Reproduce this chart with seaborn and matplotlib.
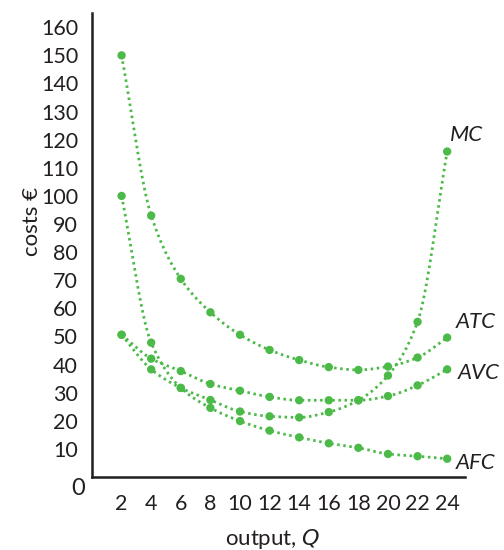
import matplotlib
matplotlib.use("Agg")
from matplotlib import pyplot as plt
import seaborn as sns
import numpy as np

# values
output_q = [2, 4, 6, 8, 10, 12, 14, 16, 18, 20, 22, 24]
atc = [150, 93, 70.5, 58.6, 50.6, 45.2, 41.6, 39.1, 38.1, 39.3, 42.5, 49.6]
avc = [50.6, 42.1, 37.7, 33.1, 30.7, 28.5, 27.3, 27.3, 27.3, 28.8, 32.6, 38.3]
afc = [100, 47.8, 31.7, 24.6, 19.9, 16.5, 14.1, 12.0, 10.4, 8.2, 7.4, 6.5]
mc = [50.6, 38.3, 31.7, 27.4, 23.3, 21.6, 21.2, 23.1, 27.3, 36.1, 55.2, 115.8]
curves = {'MC': mc, 'ATC': atc, 'AVC': avc, 'AFC': afc}
y_ticks = list(range(10, 170, 10))
x_ticks = list(range(2, 26, 2))

green = '#4cba48'
ink = '#231f20'


def smooth(x, y, n=30):
    # monotone cubic (pchip) drawn through the read points, for the curve only
    x = np.asarray(x, float)
    y = np.asarray(y, float)
    h = np.diff(x)
    d = np.diff(y) / h
    m = np.zeros_like(y)
    for i in range(1, len(y) - 1):
        if d[i - 1] * d[i] > 0:
            w1 = 2 * h[i] + h[i - 1]
            w2 = h[i] + 2 * h[i - 1]
            m[i] = (w1 + w2) / (w1 / d[i - 1] + w2 / d[i])
    m[0] = d[0]
    m[-1] = d[-1]
    xs, ys = [], []
    for i in range(len(x) - 1):
        t = np.linspace(0, 1, n, endpoint=False)
        h00 = 2 * t**3 - 3 * t**2 + 1
        h10 = t**3 - 2 * t**2 + t
        h01 = -2 * t**3 + 3 * t**2
        h11 = t**3 - t**2
        xs.append(x[i] + t * h[i])
        ys.append(h00 * y[i] + h10 * h[i] * m[i] + h01 * y[i + 1] + h11 * h[i] * m[i + 1])
    xs.append([x[-1]])
    ys.append([y[-1]])
    return np.concatenate(xs), np.concatenate(ys)


sns.set_style('white')
plt.rcParams['font.family'] = ['Lato', 'DejaVu Sans']

fig = plt.figure(figsize=(5.04, 5.5), dpi=100)
ax = fig.add_axes([0.1825, 0.1327, 0.74, 0.8433])

for name, vals in curves.items():
    sx, sy = smooth(output_q, vals)
    ax.plot(sx, sy, color=green, lw=2, linestyle=(0, (0.9, 1.3)),
            dash_capstyle='butt', zorder=2)
    sns.scatterplot(x=output_q, y=vals, ax=ax, color=green, s=36,
                    edgecolor='none', zorder=3, legend=False)

label_pos = {'MC': (24.2, 118), 'ATC': (24.6, 55), 'AVC': (24.7, 37),
             'AFC': (24.6, 5)}
for name, (lx, ly) in label_pos.items():
    ax.text(lx, ly, name, style='italic', fontsize=16, color=ink,
            va='bottom' if name == 'MC' else 'center', ha='left', clip_on=False)

ax.set_xlim(0, 25.2)
ax.set_ylim(0, 165)
ax.set_xticks([0] + x_ticks)
ax.set_xticklabels([''] + [str(t) for t in x_ticks])
ax.set_yticks([0] + y_ticks)
ax.set_yticklabels([''] + [str(t) for t in y_ticks])
ax.tick_params(axis='both', direction='out', length=6, width=1.6, color=ink,
               labelsize=15.5, labelcolor=ink, pad=4)
ax.tick_params(axis='x', pad=6)
for s in ['top', 'right']:
    ax.spines[s].set_visible(False)
for s in ['left', 'bottom']:
    ax.spines[s].set_color(ink)
    ax.spines[s].set_linewidth(1.8)
ax.text(-0.45, -0.5, '0', fontsize=17, color=ink, ha='right', va='top',
        transform=ax.transData, clip_on=False)

ax.set_ylabel('costs €', fontsize=16, color=ink)
ax.set_xlabel('output, $\\it{Q}$', fontsize=16, color=ink)
ax.yaxis.set_label_coords(-0.135, 0.55)
ax.xaxis.set_label_coords(0.485, -0.108)

fig.savefig('out.png', dpi=100)
